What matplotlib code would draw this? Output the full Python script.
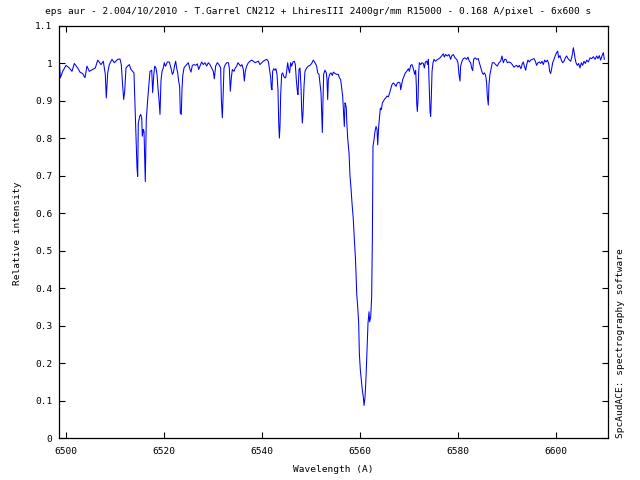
import matplotlib
matplotlib.use("Agg")
import matplotlib.pyplot as plt

# spectrum (wavelength in A, relative intensity)
wavelength = [
    6498.70, 6498.90, 6499.37, 6500.05, 6500.72, 6501.27, 6501.74, 6502.43, 6502.90, 6503.45,
    6503.92, 6504.33, 6504.80, 6505.50, 6506.03, 6506.52, 6507.19, 6507.66, 6508.07, 6508.27,
    6508.56, 6508.88, 6509.43, 6509.90, 6510.60, 6511.07, 6511.33, 6511.62, 6511.82, 6512.03,
    6512.29, 6512.64, 6512.97, 6513.31, 6513.66, 6513.92, 6514.13, 6514.33, 6514.54, 6514.68,
    6514.80, 6515.09, 6515.29, 6515.50, 6515.62, 6515.82, 6515.97, 6516.11, 6516.23, 6516.43,
    6516.72, 6516.92, 6517.19, 6517.54, 6517.74, 6517.94, 6518.15, 6518.41, 6518.62, 6518.82,
    6519.03, 6519.23, 6519.43, 6519.64, 6519.90, 6520.11, 6520.31,
    6520.39, 6520.73, 6521.13, 6521.47, 6521.75, 6521.95, 6522.22, 6522.43, 6522.63, 6522.84,
    6523.04, 6523.24, 6523.38, 6523.58, 6523.72, 6523.86, 6524.13, 6524.40, 6524.67, 6525.01,
    6525.35, 6525.56, 6525.83, 6526.17, 6526.51, 6526.85, 6527.12, 6527.39, 6527.73, 6528.07,
    6528.41, 6528.75, 6529.09, 6529.43, 6529.77, 6530.11, 6530.32, 6530.59, 6530.93, 6531.27,
    6531.61, 6531.75, 6531.95, 6532.09, 6532.29, 6532.56, 6532.84, 6533.18, 6533.38, 6533.58,
    6533.79, 6533.99, 6534.33, 6534.60, 6534.88, 6535.15, 6535.42, 6535.69, 6535.96, 6536.24,
    6536.44, 6536.64, 6536.92, 6537.26, 6537.60, 6537.94, 6538.28, 6538.62, 6538.96, 6539.30,
    6539.64, 6539.98, 6540.32, 6540.66, 6541.00, 6541.34, 6541.54,
    6541.82, 6541.95, 6542.09, 6542.22, 6542.43, 6542.70, 6542.90, 6543.11, 6543.31, 6543.45,
    6543.59, 6543.72, 6543.86, 6544.06, 6544.27, 6544.47, 6544.67, 6544.88, 6545.08, 6545.29,
    6545.49, 6545.69, 6545.90, 6546.10, 6546.37, 6546.65, 6546.85, 6547.05, 6547.26, 6547.39,
    6547.60, 6547.80, 6548.01, 6548.14, 6548.28, 6548.42, 6548.62, 6548.82, 6549.16, 6549.50,
    6549.84, 6550.18, 6550.52, 6550.86, 6551.20, 6551.41, 6551.68, 6551.88, 6552.09, 6552.22,
    6552.36, 6552.50, 6552.63, 6552.90, 6553.18, 6553.31, 6553.45, 6553.59, 6553.86, 6554.13,
    6554.40, 6554.61, 6554.95, 6555.29, 6555.63, 6555.83, 6556.10, 6556.31, 6556.51, 6556.71,
    6556.85, 6556.99, 6557.12, 6557.26,
    6557.33, 6557.53, 6557.81, 6558.01, 6558.21, 6558.42, 6558.69, 6558.90, 6559.10, 6559.24,
    6559.37, 6559.58, 6559.78, 6559.92, 6560.12, 6560.32, 6560.53, 6560.73, 6560.87, 6561.07,
    6561.28, 6561.48, 6561.68, 6561.89, 6562.02, 6562.23, 6562.43, 6562.57, 6562.70, 6562.91,
    6563.11, 6563.32, 6563.52, 6563.66, 6563.86, 6564.07, 6564.20, 6564.41, 6564.61, 6564.81,
    6565.02, 6565.29, 6565.56, 6565.83, 6566.11, 6566.38, 6566.58, 6566.85, 6567.13, 6567.40,
    6567.67, 6567.94, 6568.21, 6568.35, 6568.49, 6568.76, 6569.03, 6569.30, 6569.58, 6569.92,
    6570.12, 6570.39, 6570.66, 6570.94, 6571.21, 6571.41, 6571.55, 6571.62, 6571.75, 6571.89,
    6572.02, 6572.16, 6572.43, 6572.70, 6572.98, 6573.18, 6573.39, 6573.66, 6573.86, 6574.00,
    6574.20, 6574.34, 6574.47, 6574.61, 6574.75, 6574.95, 6575.15, 6575.43, 6575.70, 6576.04,
    6576.38,
    6576.71, 6577.05, 6577.26, 6577.53, 6577.87, 6578.21, 6578.55, 6578.75, 6579.09, 6579.43,
    6579.77, 6580.04, 6580.25, 6580.45, 6580.59, 6580.86, 6581.13, 6581.47, 6581.81, 6582.09,
    6582.36, 6582.63, 6582.83, 6583.04, 6583.24, 6583.51, 6583.85, 6584.19, 6584.40, 6584.60,
    6584.81, 6585.01, 6585.21, 6585.42, 6585.62, 6585.76, 6585.89, 6586.03, 6586.23, 6586.37,
    6586.57, 6586.78, 6587.05, 6587.39, 6587.73, 6588.07, 6588.41, 6588.75, 6589.02, 6589.30,
    6589.57, 6589.84, 6590.11, 6590.45, 6590.79, 6591.13, 6591.47, 6591.74, 6592.02, 6592.29,
    6592.56,
    6592.90, 6593.18, 6593.38, 6593.58, 6593.86, 6594.06, 6594.33, 6594.60, 6594.88, 6595.22,
    6595.56, 6595.83, 6596.10, 6596.37, 6596.65, 6596.92, 6597.19, 6597.46, 6597.73, 6598.01,
    6598.28, 6598.55, 6598.75, 6598.96, 6599.16, 6599.37, 6599.64, 6599.91, 6600.18, 6600.39,
    6600.59, 6600.86, 6601.14, 6601.41, 6601.68, 6601.95, 6602.22, 6602.50, 6602.77, 6603.04,
    6603.24, 6603.45, 6603.58, 6603.72, 6603.92, 6604.13, 6604.40, 6604.67, 6604.94, 6605.22,
    6605.49, 6605.76, 6606.03, 6606.31, 6606.65, 6606.99, 6607.33, 6607.67, 6608.01, 6608.35,
    6608.62, 6608.89, 6609.16, 6609.43, 6609.71, 6609.91,
]

intensity = [
    1.002, 0.962, 0.979, 0.995, 0.988, 0.979, 1.000, 0.988, 0.977, 0.973,
    0.962, 0.993, 0.979, 0.984, 0.988, 1.009, 0.997, 1.006, 0.971, 0.908,
    0.975, 0.997, 1.011, 1.002, 1.011, 1.012, 0.997, 0.939, 0.904, 0.926,
    0.988, 0.993, 0.997, 0.984, 0.979, 0.975, 0.886, 0.797, 0.721, 0.699,
    0.841, 0.859, 0.864, 0.855, 0.806, 0.824, 0.819, 0.743, 0.685, 0.850,
    0.904, 0.935, 0.979, 0.982, 0.922, 0.966, 0.993, 0.988, 0.971, 0.935,
    0.904, 0.864, 0.953, 0.979, 0.988, 1.002, 0.993,
    0.993, 1.004, 1.004, 0.988, 0.971, 0.975, 0.995, 1.006, 0.988, 0.975,
    0.953, 0.939, 0.868, 0.864, 0.930, 0.966, 0.988, 0.993, 0.997, 1.002,
    0.984, 0.977, 0.995, 0.997, 0.995, 0.999, 0.984, 0.993, 1.004, 0.997,
    1.002, 0.993, 1.002, 0.997, 0.988, 0.979, 0.959, 0.993, 1.002, 0.997,
    0.988, 0.904, 0.855, 0.904, 0.988, 0.997, 1.002, 1.002, 0.988, 0.926,
    0.962, 0.984, 0.979, 0.988, 0.993, 1.002, 0.997, 0.993, 0.997, 0.984,
    0.953, 0.979, 0.993, 1.002, 1.006, 1.009, 1.006, 1.002, 1.004, 1.006,
    0.997, 1.002, 1.006, 1.009, 1.011, 1.006, 0.988,
    0.962, 0.935, 0.930, 0.979, 0.986, 0.982, 0.986, 0.971, 0.930, 0.846,
    0.801, 0.832, 0.917, 0.971, 0.975, 0.966, 0.962, 0.962, 0.979, 1.002,
    0.984, 0.975, 1.002, 0.993, 1.004, 1.006, 0.997, 0.957, 0.926, 0.917,
    0.984, 0.988, 0.939, 0.877, 0.841, 0.868, 0.939, 0.979, 0.988, 0.993,
    0.995, 1.000, 1.009, 1.002, 0.993, 0.975, 0.971, 0.948, 0.922, 0.868,
    0.816, 0.904, 0.971, 0.982, 0.975, 0.957, 0.904, 0.957, 0.971, 0.975,
    0.968, 0.977, 0.973, 0.971, 0.971, 0.962, 0.957, 0.935, 0.913, 0.868,
    0.832, 0.895, 0.890, 0.881,
    0.850, 0.801, 0.761, 0.699, 0.668, 0.627, 0.583, 0.529, 0.485, 0.440,
    0.387, 0.351, 0.307, 0.226, 0.182, 0.155, 0.128, 0.110, 0.088, 0.110,
    0.164, 0.235, 0.307, 0.338, 0.311, 0.324, 0.378, 0.529, 0.779, 0.797,
    0.819, 0.832, 0.824, 0.783, 0.832, 0.864, 0.881, 0.877, 0.895, 0.899,
    0.904, 0.908, 0.913, 0.911, 0.922, 0.935, 0.944, 0.948, 0.944, 0.939,
    0.948, 0.950, 0.948, 0.930, 0.939, 0.957, 0.966, 0.975, 0.979, 0.986,
    0.979, 0.995, 0.997, 0.986, 0.971, 0.982, 0.939, 0.895, 0.872, 0.904,
    0.975, 1.002, 0.997, 1.002, 1.000, 0.988, 1.004, 1.006, 0.997, 1.011,
    0.930, 0.872, 0.859, 0.913, 0.979, 1.002, 1.011, 1.006, 1.009, 1.012,
    1.015,
    1.020, 1.026, 1.017, 1.024, 1.020, 1.024, 1.011, 1.020, 1.024, 1.015,
    1.011, 1.002, 0.971, 0.953, 0.993, 1.006, 1.013, 1.015, 1.011, 1.017,
    1.006, 1.002, 0.988, 0.981, 1.011, 1.015, 1.011, 1.013, 1.002, 0.993,
    0.984, 0.975, 0.971, 0.975, 0.971, 0.962, 0.948, 0.913, 0.889, 0.944,
    0.971, 0.984, 1.002, 1.002, 0.997, 0.993, 1.002, 1.006, 1.020, 1.002,
    1.011, 1.011, 1.002, 1.004, 1.002, 0.997, 0.990, 0.993, 0.995, 0.990,
    0.995,
    0.986, 1.000, 1.004, 0.993, 0.982, 0.997, 1.009, 1.004, 1.009, 1.011,
    1.013, 1.006, 0.995, 1.002, 1.004, 1.000, 1.006, 0.997, 1.009, 1.004,
    1.009, 1.000, 0.979, 0.973, 0.986, 1.002, 1.011, 1.021, 1.029, 1.033,
    1.015, 1.021, 1.009, 1.002, 1.006, 1.015, 1.020, 1.013, 1.009, 1.006,
    1.015, 1.029, 1.042, 1.033, 1.015, 1.002, 0.995, 1.000, 0.988, 1.002,
    0.995, 1.006, 1.000, 1.009, 1.004, 1.015, 1.013, 1.018, 1.011, 1.020,
    1.013, 1.021, 1.009, 1.020, 1.029, 1.011,
]

x_ticks = [6500, 6520, 6540, 6560, 6580, 6600]
y_ticks = [0, 0.1, 0.2, 0.3, 0.4, 0.5, 0.6, 0.7, 0.8, 0.9, 1.0, 1.1]
y_labels = ["0", "0.1", "0.2", "0.3", "0.4", "0.5", "0.6", "0.7", "0.8", "0.9", "1", "1.1"]

title = ("eps aur - 2.004/10/2010 - T.Garrel CN212 + LhiresIII 2400gr/mm "
         "R15000 - 0.168 A/pixel - 6x600 s")

plt.rcParams['font.family'] = ['DejaVu Sans Mono']
fs = 6.8

fig = plt.figure(figsize=(6.4, 4.8), dpi=100)
ax = fig.add_axes([0.0928, 0.0865, 0.8572, 0.8594])

ax.plot(wavelength, intensity, color='#0000ff', linewidth=0.75)

ax.set_xlim(6498.7, 6610.66)
ax.set_ylim(0, 1.1)
ax.set_xticks(x_ticks)
ax.set_xticklabels([str(t) for t in x_ticks])
ax.set_yticks(y_ticks)
ax.set_yticklabels(y_labels)
ax.tick_params(direction='in', top=True, right=True, length=4.5, width=0.8,
               labelsize=fs, colors='black')
ax.tick_params(axis='y', pad=5)
ax.tick_params(axis='x', pad=6)
for s in ax.spines.values():
    s.set_linewidth(0.9)

fig.text(0.497, 0.975, title, ha='center', va='center', fontsize=fs)
fig.text(0.52, 0.021, "Wavelength (A)", ha='center', va='center', fontsize=fs)
fig.text(0.027, 0.515, "Relative intensity", ha='center', va='center',
         rotation=90, fontsize=fs)
fig.text(0.970, 0.0875, "SpcAudACE: spectrography software", ha='center',
         va='bottom', rotation=90, fontsize=fs)

fig.savefig("out.png", dpi=100)
